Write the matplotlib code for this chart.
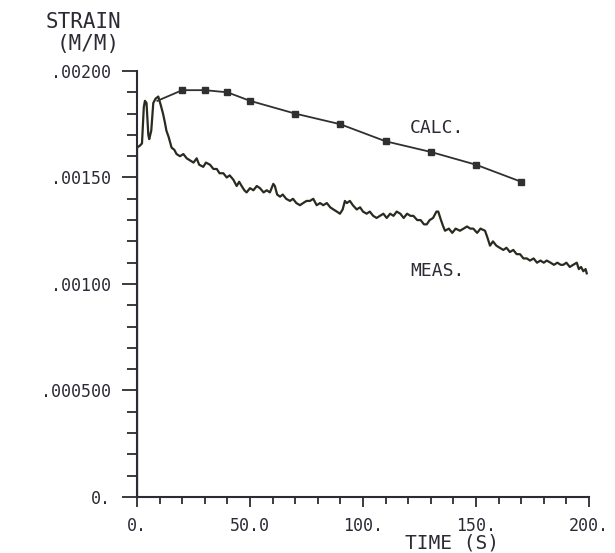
import matplotlib
matplotlib.use("Agg")
import matplotlib.pyplot as plt
from matplotlib.ticker import FixedLocator, FixedFormatter, MultipleLocator

# calculated strain (line with square markers)
calc_time = [9, 20, 30, 40, 50, 70, 90, 110, 130, 150, 170]
calc_strain = [.00186, .00191, .00191, .00190, .00186, .00180,
               .00175, .00167, .00162, .00156, .00148]

# measured strain (noisy trace)
meas_time = [0, 0, 1.3, 2.2, 3.0, 3.5, 4.2, 5.0, 5.4, 6.3, 7.2, 8.2, 9.4,
             10.5, 11.5, 12.3, 13.0, 14.0, 15.3, 16.5, 17.5, 19.0, 20.5,
             22.0, 23.5, 25.0, 26.4, 27.5, 29.3, 30.5, 32.3, 33.8, 35.3,
             36.5, 38.2, 39.7, 41.0, 42.6, 44.1, 45.2, 46.3, 47.5, 48.5,
             50.0, 51.5, 53.0, 54.4, 56.0, 57.4, 58.8, 60.3, 61.0, 62.0,
             63.3, 64.5, 66.0, 67.7, 69.0, 70.5, 72.1, 73.5, 75.0, 76.5,
             78.0, 79.5, 81.0, 82.4, 84.0, 85.5, 86.9, 88.4, 89.8, 91.0,
             92.0, 92.8, 94.2, 95.5, 97.2, 98.7, 100.0, 101.6, 103.0, 104.5,
             106.0, 107.5, 109.0, 110.5, 112.0, 113.5, 114.9, 116.5, 118.0,
             119.5, 121.0, 122.3, 124.0, 125.5, 127.0, 128.2, 129.5, 131.0,
             132.5, 133.3, 134.5, 135.5, 136.3, 138.0, 139.5, 141.0, 142.9,
             144.5, 146.0, 147.5, 148.8, 150.5, 152.0, 154.0, 155.0, 156.2,
             157.5, 159.0, 160.5, 162.1, 163.5, 165.0, 166.5, 168.0, 169.5,
             171.0, 172.5, 173.9, 175.5, 177.0, 178.5, 180.0, 181.3, 183.0,
             184.5, 186.0, 187.5, 188.6, 190.0, 191.5, 193.0, 194.6, 195.5,
             196.5, 197.5, 198.5, 199.0]
meas_strain = [0, .00164, .00165, .00166, .00183, .00186, .00185, .00170,
               .00168, .00172, .00185, .00187, .00188, .00184, .00180,
               .00176, .00172, .00169, .00164, .00163, .00161, .00160,
               .00161, .00159, .00158, .00157, .00159, .00156, .00155,
               .00157, .00156, .00154, .00154, .00152, .00152, .00150,
               .00151, .00149, .00146, .00148, .00146, .00144, .00143,
               .00145, .00144, .00146, .00145, .00143, .00144, .00143,
               .00147, .00146, .00142, .00141, .00142, .00140, .00139,
               .00140, .00138, .00137, .00138, .00139, .00139, .00140,
               .00137, .00138, .00137, .00138, .00136, .00135, .00134,
               .00133, .00135, .00139, .00138, .00139, .00137, .00135,
               .00136, .00134, .00133, .00134, .00132, .00131, .00132,
               .00133, .00131, .00133, .00132, .00134, .00133, .00131,
               .00133, .00132, .00132, .00130, .00130, .00128, .00128,
               .00130, .00131, .00134, .00134, .00130, .00127, .00125,
               .00126, .00124, .00126, .00125, .00126, .00127, .00126,
               .00126, .00124, .00126, .00125, .00122, .00118, .00120,
               .00118, .00117, .00116, .00117, .00115, .00116, .00114,
               .00114, .00112, .00112, .00111, .00112, .00110, .00111,
               .00110, .00111, .00110, .00109, .00110, .00109, .00109,
               .00110, .00108, .00109, .00110, .00107, .00108, .00106,
               .00107, .00105]

x_ticks = [0, 50, 100, 150, 200]
x_labels = ['0.', '50.0', '100.', '150.', '200.']
y_ticks = [0, .0005, .0010, .0015, .0020]
y_labels = ['0.', '.000500', '.00100', '.00150', '.00200']

ink = '#2b2b35'
mono = 'DejaVu Sans Mono'

fig = plt.figure(figsize=(6.15, 5.53), dpi=100)
ax = fig.add_axes([0.2228, 0.1013, 0.7349, 0.7703])

ax.plot(meas_time, meas_strain, color='#2a2a1e', lw=1.6)
ax.plot(calc_time, calc_strain, color='#303030', lw=1.3,
        marker='s', ms=4, markevery=slice(1, None))

ax.set_xlim(0, 200)
ax.set_ylim(0, 0.002)

for s in ['top', 'right']:
    ax.spines[s].set_visible(False)
for s in ['left', 'bottom']:
    ax.spines[s].set_linewidth(1.5)
    ax.spines[s].set_color(ink)

ax.xaxis.set_major_locator(FixedLocator(x_ticks))
ax.xaxis.set_major_formatter(FixedFormatter(x_labels))
ax.xaxis.set_minor_locator(MultipleLocator(10))
ax.yaxis.set_major_locator(FixedLocator(y_ticks))
ax.yaxis.set_major_formatter(FixedFormatter(y_labels))
ax.yaxis.set_minor_locator(MultipleLocator(0.0001))

ax.tick_params(axis='x', which='major', direction='out', length=7.5,
               width=1.3, color=ink, pad=7, labelsize=12, labelcolor=ink)
ax.tick_params(axis='x', which='minor', direction='out', length=5,
               width=1.3, color=ink)
ax.tick_params(axis='y', which='major', direction='out', length=11,
               width=1.3, color=ink, pad=8, labelsize=12, labelcolor=ink)
ax.tick_params(axis='y', which='minor', direction='out', length=7,
               width=1.3, color=ink)
for lab in ax.get_xticklabels() + ax.get_yticklabels():
    lab.set_fontfamily(mono)

ax.text(120.8, 0.001732, 'CALC.', fontsize=13, family=mono, color=ink,
        va='center', ha='left')
ax.text(120.8, 0.001061, 'MEAS.', fontsize=13, family=mono, color=ink,
        va='center', ha='left')

fig.text(0.1358, 0.960, 'STRAIN', fontsize=15, family=mono, color=ink,
         ha='center', va='center')
fig.text(0.143, 0.920, '(M/M)', fontsize=15, family=mono, color=ink,
         ha='center', va='center')
fig.text(0.735, 0.018, 'TIME (S)', fontsize=14, family=mono, color=ink,
         ha='center', va='center')

fig.savefig('out.png', dpi=100)
